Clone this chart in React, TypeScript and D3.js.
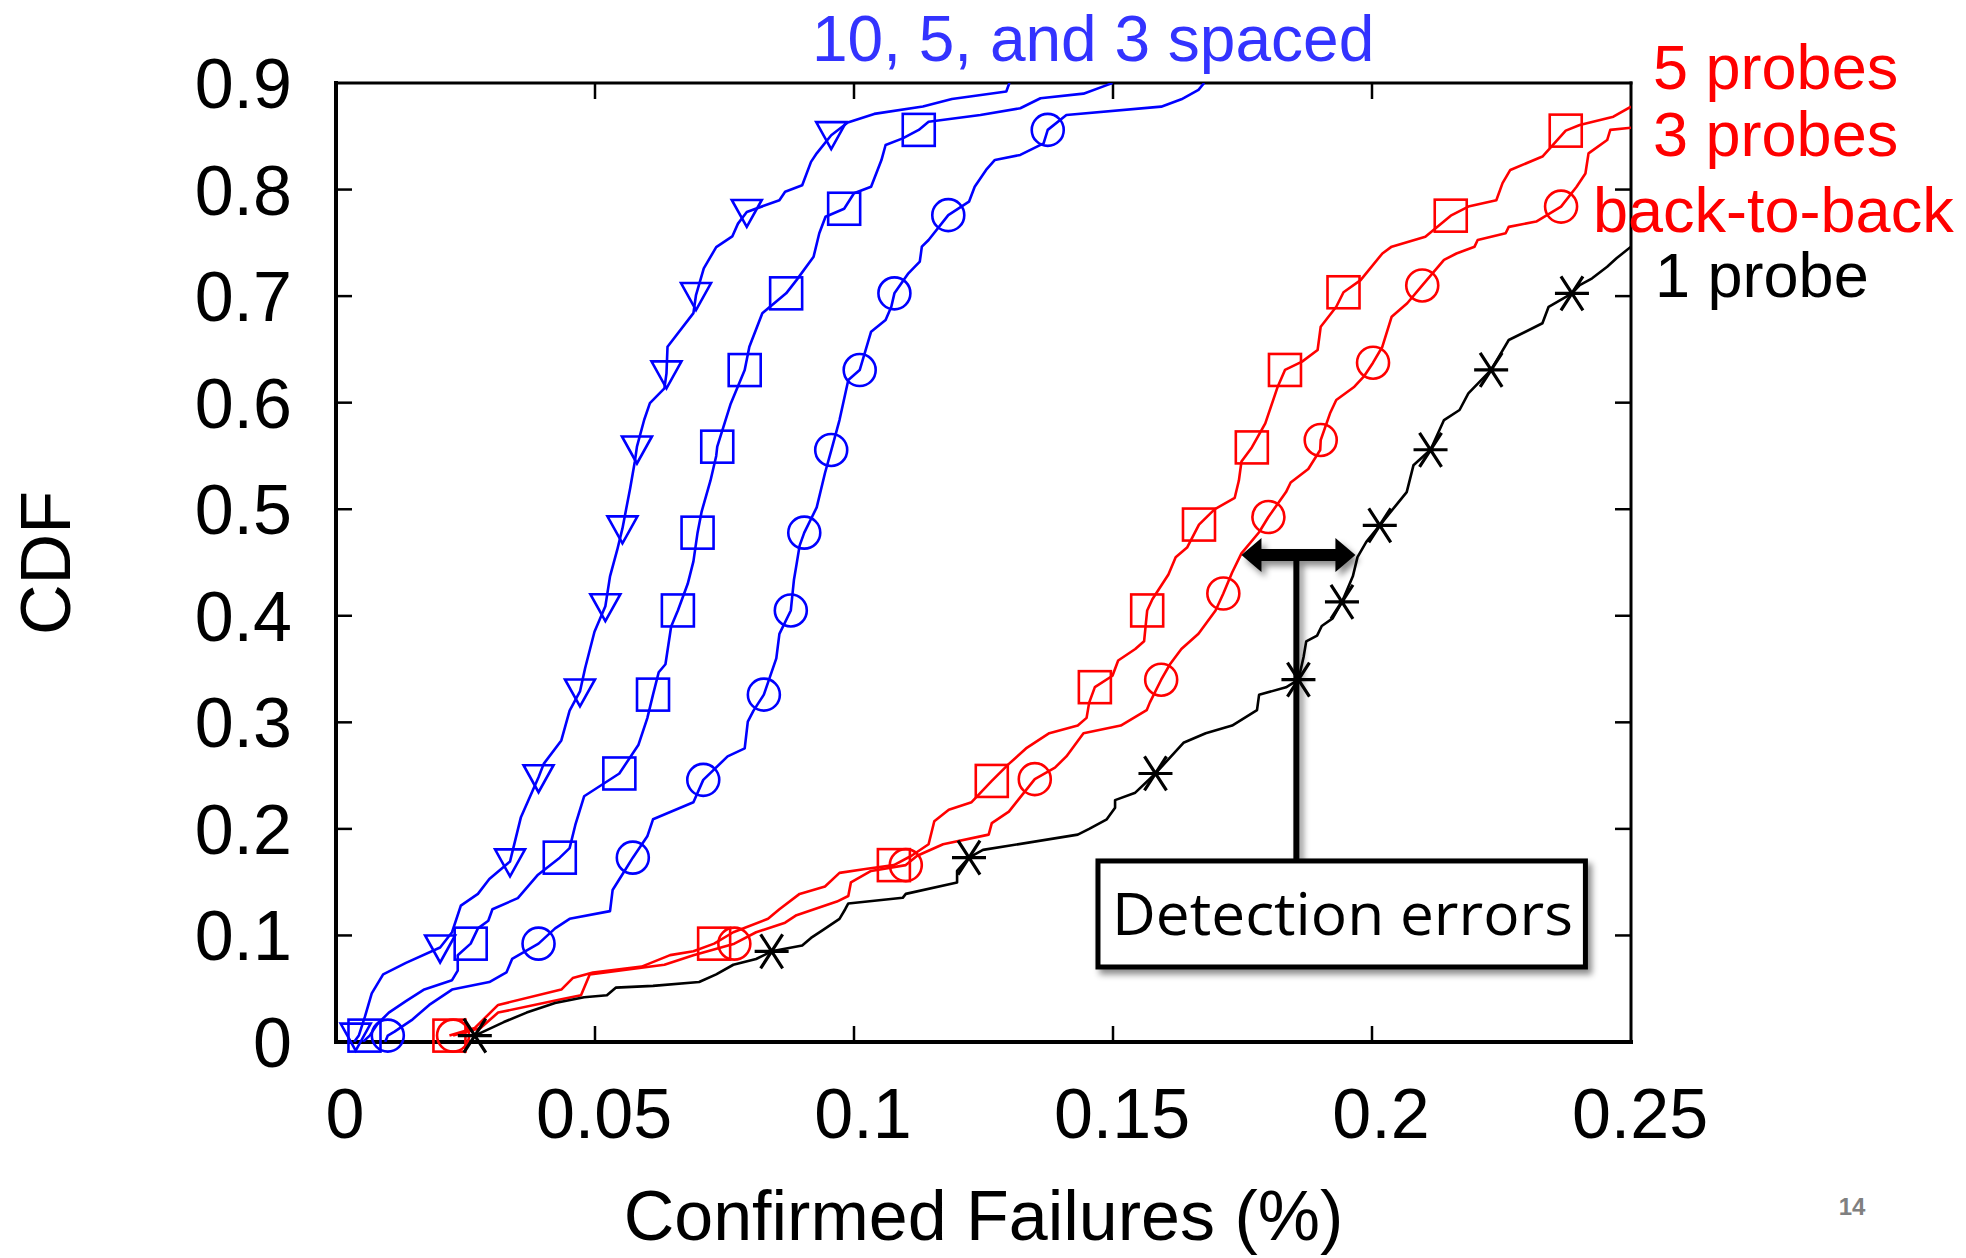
import * as d3 from 'd3'
import { useEffect, useRef } from 'react'

type Pt = [number, number]

// x ticks / y ticks
const xTicks = [0, 0.05, 0.1, 0.15, 0.2, 0.25]
const xTickLabels = ['0', '0.05', '0.1', '0.15', '0.2', '0.25']
const yTicks = [0, 0.1, 0.2, 0.3, 0.4, 0.5, 0.6, 0.7, 0.8, 0.9]
const yTickLabels = ['0', '0.1', '0.2', '0.3', '0.4', '0.5', '0.6', '0.7', '0.8', '0.9']

// 10 spaced (blue, triangles)
const spaced10: Pt[] = [[0.0035,0],[0.0044,0.006],[0.0056,0.024],[0.0069,0.0456],[0.0091,0.0635],[0.0135,0.0743],[0.0201,0.0887],[0.0224,0.103],[0.0241,0.128],[0.0274,0.139],[0.0296,0.153],[0.0336,0.1695],[0.0357,0.211],[0.0391,0.2485],[0.0401,0.261],[0.0435,0.283],[0.0451,0.311],[0.0471,0.329],[0.0481,0.351],[0.0499,0.385],[0.052,0.409],[0.0529,0.437],[0.0543,0.462],[0.0553,0.482],[0.0568,0.52],[0.0577,0.545],[0.0581,0.5587],[0.0595,0.584],[0.0606,0.5995],[0.0634,0.6135],[0.0638,0.6275],[0.064,0.6525],[0.069,0.684],[0.0695,0.701],[0.071,0.726],[0.0734,0.746],[0.0765,0.756],[0.0776,0.768],[0.0793,0.779],[0.0856,0.79],[0.0867,0.798],[0.09,0.804],[0.0917,0.826],[0.0928,0.834],[0.0956,0.851],[0.0988,0.863],[0.1039,0.871],[0.1133,0.878],[0.1189,0.885],[0.1294,0.892],[0.13,0.9]]
const spaced10Marks: Pt[] = [[0.0038,0.006],[0.0201,0.0887],[0.0336,0.1695],[0.0391,0.2485],[0.0471,0.329],[0.052,0.409],[0.0553,0.482],[0.0581,0.557],[0.0638,0.6275],[0.0695,0.701],[0.0793,0.779],[0.0956,0.852]]

// 5 spaced (blue, squares)
const spaced5: Pt[] = [[0.0052,0],[0.0065,0.006],[0.008,0.0169],[0.0102,0.0276],[0.0135,0.0384],[0.0169,0.049],[0.0224,0.058],[0.0235,0.067],[0.0235,0.0815],[0.026,0.0923],[0.0274,0.1066],[0.0294,0.1138],[0.0302,0.1246],[0.0351,0.135],[0.039,0.157],[0.0432,0.173],[0.0451,0.182],[0.0462,0.2037],[0.0479,0.2306],[0.0547,0.252],[0.0584,0.279],[0.0601,0.304],[0.0612,0.326],[0.0623,0.347],[0.0636,0.3545],[0.0647,0.39],[0.066,0.405],[0.0679,0.43],[0.069,0.451],[0.0698,0.478],[0.0706,0.498],[0.0723,0.527],[0.0734,0.55],[0.0736,0.5587],[0.0762,0.599],[0.0789,0.6306],[0.0798,0.6525],[0.0823,0.684],[0.0869,0.7026],[0.0889,0.715],[0.0922,0.737],[0.0933,0.759],[0.0945,0.7745],[0.0981,0.782],[0.1,0.7965],[0.1033,0.8027],[0.1053,0.8277],[0.1061,0.8418],[0.1094,0.848],[0.1125,0.856],[0.1144,0.8637],[0.1244,0.87],[0.1321,0.8763],[0.136,0.8857],[0.1443,0.89],[0.1488,0.898],[0.1499,0.9]]
const spaced5Marks: Pt[] = [[0.0055,0.006],[0.026,0.0923],[0.0432,0.173],[0.0547,0.252],[0.0612,0.326],[0.066,0.405],[0.0698,0.478],[0.0736,0.5587],[0.0789,0.6306],[0.0869,0.7026],[0.0981,0.782],[0.1125,0.856]]

// 3 spaced (blue, circles)
const spaced3: Pt[] = [[0.0095,0],[0.01,0.006],[0.0113,0.0097],[0.0146,0.0205],[0.018,0.0348],[0.0224,0.0492],[0.0296,0.0563],[0.0329,0.0653],[0.034,0.0779],[0.0391,0.0923],[0.0423,0.1066],[0.0451,0.1156],[0.0529,0.1228],[0.0534,0.1426],[0.0557,0.1605],[0.0573,0.173],[0.0601,0.193],[0.0612,0.209],[0.069,0.225],[0.0709,0.246],[0.0756,0.268],[0.0789,0.2755],[0.0795,0.3006],[0.0806,0.311],[0.0826,0.326],[0.085,0.36],[0.0856,0.383],[0.0878,0.405],[0.0884,0.4335],[0.0889,0.448],[0.0895,0.4658],[0.0904,0.478],[0.0928,0.5017],[0.0944,0.534],[0.0956,0.555],[0.0972,0.5837],[0.0989,0.6213],[0.1011,0.6306],[0.1033,0.6666],[0.1061,0.6776],[0.1072,0.69],[0.1078,0.7026],[0.1105,0.7214],[0.1127,0.7323],[0.1131,0.7464],[0.1144,0.7527],[0.1182,0.776],[0.1222,0.7886],[0.1233,0.8027],[0.1255,0.8184],[0.1272,0.8278],[0.1321,0.8325],[0.1366,0.8434],[0.1374,0.856],[0.141,0.87],[0.1593,0.8778],[0.1632,0.8847],[0.1665,0.8935],[0.1676,0.9]]
const spaced3Marks: Pt[] = [[0.01,0.006],[0.0391,0.0923],[0.0573,0.173],[0.0709,0.246],[0.0826,0.326],[0.0878,0.405],[0.0904,0.478],[0.0956,0.5556],[0.1011,0.6306],[0.1078,0.7026],[0.1182,0.776],[0.1374,0.856]]

// 5 probes back-to-back (red, squares)
const probes5: Pt[] = [[0.0219,0.006],[0.0268,0.0132],[0.0313,0.0348],[0.0435,0.0492],[0.0457,0.06],[0.0496,0.0653],[0.059,0.0707],[0.0645,0.0815],[0.069,0.0851],[0.073,0.0923],[0.0767,0.103],[0.0834,0.1156],[0.0856,0.1246],[0.0895,0.139],[0.0944,0.146],[0.0972,0.1587],[0.1022,0.1623],[0.1077,0.166],[0.1111,0.1748],[0.1144,0.1856],[0.1155,0.2072],[0.1183,0.218],[0.1227,0.2251],[0.1266,0.245],[0.1299,0.261],[0.1332,0.2755],[0.1377,0.2898],[0.1432,0.297],[0.1449,0.3042],[0.1454,0.3185],[0.1465,0.333],[0.1499,0.3437],[0.151,0.358],[0.1543,0.3688],[0.156,0.376],[0.1566,0.405],[0.1576,0.4155],[0.1607,0.4388],[0.1621,0.455],[0.1643,0.464],[0.1666,0.4856],[0.1696,0.4999],[0.1735,0.5107],[0.1743,0.5269],[0.1748,0.5448],[0.1768,0.558],[0.1794,0.5806],[0.1818,0.615],[0.1832,0.6307],[0.1865,0.6385],[0.1895,0.6494],[0.1901,0.6713],[0.1931,0.69],[0.1945,0.7036],[0.1978,0.715],[0.202,0.74],[0.2038,0.7464],[0.2103,0.7558],[0.2152,0.7755],[0.2186,0.784],[0.224,0.79],[0.2252,0.806],[0.2267,0.8184],[0.2329,0.831],[0.2374,0.8553],[0.2401,0.8606],[0.2466,0.8684],[0.25,0.8778]]
const probes5Marks: Pt[] = [[0.0219,0.006],[0.073,0.0923],[0.1077,0.166],[0.1266,0.245],[0.1465,0.333],[0.1566,0.405],[0.1666,0.4856],[0.1768,0.558],[0.1832,0.6307],[0.1945,0.7036],[0.2152,0.7755],[0.2374,0.8553]]

// 3 probes back-to-back (red, circles)
const probes3: Pt[] = [[0.0226,0.006],[0.0279,0.0132],[0.0313,0.0276],[0.0435,0.0402],[0.0473,0.0438],[0.049,0.0635],[0.0634,0.0725],[0.069,0.0815],[0.0769,0.0923],[0.0811,0.103],[0.0867,0.112],[0.0889,0.119],[0.0967,0.1318],[0.0989,0.137],[0.0994,0.1497],[0.1033,0.1605],[0.11,0.166],[0.1122,0.1748],[0.1172,0.1856],[0.126,0.1946],[0.1266,0.2054],[0.1299,0.2162],[0.1349,0.2467],[0.1388,0.2575],[0.141,0.268],[0.1443,0.2898],[0.1515,0.297],[0.1565,0.3114],[0.1571,0.3185],[0.1593,0.34],[0.161,0.3545],[0.1632,0.3688],[0.1665,0.3832],[0.1698,0.405],[0.1713,0.4209],[0.173,0.4406],[0.1748,0.4586],[0.1782,0.4784],[0.18,0.4927],[0.1834,0.5161],[0.1843,0.5251],[0.1877,0.5377],[0.19,0.5556],[0.1901,0.565],[0.1919,0.59],[0.1931,0.6025],[0.1966,0.615],[0.1984,0.6244],[0.2002,0.6375],[0.202,0.6525],[0.2038,0.6807],[0.2068,0.6933],[0.2097,0.71],[0.2139,0.734],[0.2163,0.74],[0.2198,0.7464],[0.2204,0.7527],[0.2258,0.759],[0.2264,0.765],[0.2317,0.77],[0.2365,0.784],[0.2395,0.8027],[0.2412,0.815],[0.2418,0.834],[0.2454,0.8465],[0.246,0.856],[0.25,0.858]]
const probes3Marks: Pt[] = [[0.0226,0.006],[0.0769,0.0923],[0.11,0.166],[0.1349,0.2467],[0.1593,0.34],[0.1713,0.4209],[0.18,0.4927],[0.1901,0.565],[0.2002,0.6375],[0.2097,0.71],[0.2365,0.784]]

// 1 probe (black, asterisks)
const probe1: Pt[] = [[0.0268,0.006],[0.0324,0.0187],[0.0368,0.0276],[0.0423,0.0366],[0.0479,0.042],[0.0523,0.0438],[0.054,0.051],[0.0612,0.0527],[0.0701,0.0563],[0.0734,0.0635],[0.0767,0.0725],[0.0811,0.0779],[0.0841,0.0851],[0.09,0.0905],[0.0917,0.0977],[0.0939,0.1048],[0.0972,0.1156],[0.0983,0.1246],[0.0989,0.13],[0.1094,0.1353],[0.11,0.139],[0.1199,0.1497],[0.1199,0.1605],[0.1222,0.173],[0.1249,0.1803],[0.1432,0.1946],[0.1454,0.2],[0.1488,0.209],[0.1504,0.2198],[0.1504,0.227],[0.1543,0.234],[0.1582,0.252],[0.1636,0.2808],[0.1679,0.2898],[0.173,0.297],[0.1778,0.3114],[0.1782,0.3258],[0.1834,0.3329],[0.1858,0.34],[0.1868,0.3616],[0.1873,0.376],[0.1894,0.3814],[0.1903,0.3904],[0.1924,0.3975],[0.1942,0.413],[0.1963,0.437],[0.1972,0.455],[0.1989,0.4694],[0.2015,0.4848],[0.2049,0.5053],[0.2067,0.516],[0.208,0.5412],[0.2113,0.5558],[0.2139,0.5837],[0.2169,0.5931],[0.2186,0.6088],[0.223,0.6307],[0.2264,0.6588],[0.2329,0.6745],[0.2341,0.69],[0.2386,0.7026],[0.2401,0.7104],[0.2425,0.7167],[0.2454,0.7276],[0.2472,0.7355],[0.25,0.7464]]
const probe1Marks: Pt[] = [[0.0268,0.006],[0.0841,0.0851],[0.1222,0.173],[0.1582,0.252],[0.1858,0.34],[0.1942,0.413],[0.2015,0.4848],[0.2113,0.5558],[0.223,0.6307],[0.2386,0.7026]]

const series = [
  { line: spaced10, marks: spaced10Marks, color: '#0000ff', shape: 'tri' },
  { line: spaced5, marks: spaced5Marks, color: '#0000ff', shape: 'square' },
  { line: spaced3, marks: spaced3Marks, color: '#0000ff', shape: 'circle' },
  { line: probes5, marks: probes5Marks, color: '#ff0000', shape: 'square' },
  { line: probes3, marks: probes3Marks, color: '#ff0000', shape: 'circle' },
  { line: probe1, marks: probe1Marks, color: '#000000', shape: 'star' },
]

// annotation, in data units
const arrowY = 0.457
const arrowX: [number, number] = [0.1748, 0.1968]
const stemX = 0.1854
const boxX: [number, number] = [0.1471, 0.2412]
const boxY: [number, number] = [0.0704, 0.1699]

const FONT = '"Liberation Sans", Arial, Helvetica, sans-serif'

const App = () => {
  const svgRef = useRef<SVGSVGElement>(null)
  const width = 1966
  const height = 1258

  useEffect(() => {
    const x = d3.scaleLinear([0, 0.25], [336, 1631])
    const y = d3.scaleLinear([0, 0.9], [1042, 83])
    const svg = d3.select(svgRef.current)
    svg.selectAll('*').remove()

    const defs = svg.append('defs')
    defs.append('clipPath').attr('id', 'plotclip')
      .append('rect').attr('x', 336).attr('y', 83).attr('width', 1295).attr('height', 959)
    defs.append('filter').attr('id', 'shadow')
      .attr('x', '-20%').attr('y', '-20%').attr('width', '140%').attr('height', '160%')
      .append('feDropShadow')
      .attr('dx', 4).attr('dy', 5).attr('stdDeviation', 3)
      .attr('flood-color', '#000').attr('flood-opacity', 0.45)

    // ticks (inside, mirrored)
    const tk = svg.append('g').attr('stroke', '#000').attr('stroke-width', 2.5)
    xTicks.slice(1, -1).forEach(v => {
      tk.append('line').attr('x1', x(v)).attr('x2', x(v)).attr('y1', y(0)).attr('y2', y(0) - 16)
      tk.append('line').attr('x1', x(v)).attr('x2', x(v)).attr('y1', y(0.9)).attr('y2', y(0.9) + 16)
    })
    yTicks.slice(1, -1).forEach(v => {
      tk.append('line').attr('x1', x(0)).attr('x2', x(0) + 16).attr('y1', y(v)).attr('y2', y(v))
      tk.append('line').attr('x1', x(0.25)).attr('x2', x(0.25) - 16).attr('y1', y(v)).attr('y2', y(v))
    })

    // frame
    const fr = svg.append('g').attr('stroke', '#000').attr('stroke-linecap', 'square')
    fr.append('line').attr('x1', x(0)).attr('x2', x(0.25)).attr('y1', y(0.9)).attr('y2', y(0.9)).attr('stroke-width', 3)
    fr.append('line').attr('x1', x(0.25)).attr('x2', x(0.25)).attr('y1', y(0.9)).attr('y2', y(0)).attr('stroke-width', 3)
    fr.append('line').attr('x1', x(0)).attr('x2', x(0)).attr('y1', y(0.9)).attr('y2', y(0)).attr('stroke-width', 4)
    fr.append('line').attr('x1', x(0)).attr('x2', x(0.25)).attr('y1', y(0)).attr('y2', y(0)).attr('stroke-width', 4)

    // tick labels
    svg.append('g').selectAll('text').data(yTicks).join('text')
      .attr('x', 292).attr('y', d => y(d) + 25)
      .attr('text-anchor', 'end').attr('font-family', FONT).attr('font-size', 70)
      .text((d, i) => yTickLabels[i])
    svg.append('g').selectAll('text').data(xTicks).join('text')
      .attr('x', d => x(d) + 9).attr('y', 1138)
      .attr('text-anchor', 'middle').attr('font-family', FONT).attr('font-size', 70)
      .text((d, i) => xTickLabels[i])

    // axis titles
    svg.append('text').attr('x', 983.5).attr('y', 1240).attr('text-anchor', 'middle')
      .attr('font-family', FONT).attr('font-size', 70).text('Confirmed Failures (%)')
    svg.append('text').attr('transform', 'translate(70,563) rotate(-90)').attr('text-anchor', 'middle')
      .attr('font-family', FONT).attr('font-size', 70).text('CDF')

    // lines
    const line = d3.line<Pt>().x(d => x(d[0])).y(d => y(d[1]))
    const lg = svg.append('g').attr('clip-path', 'url(#plotclip)')
    series.forEach(s => {
      lg.append('path').attr('d', line(s.line)).attr('fill', 'none')
        .attr('stroke', s.color).attr('stroke-width', 2.6).attr('stroke-linejoin', 'round')
    })

    // markers
    series.forEach(s => {
      const g = svg.append('g').attr('fill', 'none').attr('stroke', s.color)
        .attr('stroke-width', s.shape === 'star' ? 3.2 : 2.6)
      s.marks.forEach(([mx, my]) => {
        const px = x(mx), py = y(my)
        if (s.shape === 'tri') {
          g.append('path').attr('d', `M${px - 15},${py - 12}L${px + 15},${py - 12}L${px},${py + 15}Z`)
        } else if (s.shape === 'square') {
          g.append('rect').attr('x', px - 16).attr('y', py - 16).attr('width', 32).attr('height', 32)
        } else if (s.shape === 'circle') {
          g.append('circle').attr('cx', px).attr('cy', py).attr('r', 16)
        } else {
          g.append('path').attr('d',
            `M${px - 17},${py}L${px + 17},${py}M${px - 11},${py - 17}L${px + 11},${py + 17}M${px + 11},${py - 17}L${px - 11},${py + 17}`)
        }
      })
    })

    // labels
    svg.append('text').attr('x', 812).attr('y', 61).attr('font-family', FONT).attr('font-size', 64)
      .attr('fill', '#3333ff').text('10, 5, and 3 spaced')
    const lab = svg.append('g').attr('font-family', FONT).attr('font-size', 63)
    lab.append('text').attr('x', 1653).attr('y', 89).attr('fill', '#ff0000').text('5 probes')
    lab.append('text').attr('x', 1653).attr('y', 156).attr('fill', '#ff0000').text('3 probes')
    lab.append('text').attr('x', 1593).attr('y', 232).attr('fill', '#ff0000').text('back-to-back')
    lab.append('text').attr('x', 1655).attr('y', 297).attr('fill', '#000').text('1 probe')

    // annotation: arrow, stem, box
    const ann = svg.append('g').attr('filter', 'url(#shadow)')
    const ay = y(arrowY), ax0 = x(arrowX[0]), ax1 = x(arrowX[1])
    ann.append('path').attr('fill', '#000').attr('d',
      `M${ax0},${ay}L${ax0 + 20},${ay - 17}L${ax0 + 20},${ay - 6}L${ax1 - 20},${ay - 6}L${ax1 - 20},${ay - 17}` +
      `L${ax1},${ay}L${ax1 - 20},${ay + 17}L${ax1 - 20},${ay + 6}L${ax0 + 20},${ay + 6}L${ax0 + 20},${ay + 17}Z`)
    ann.append('line').attr('x1', x(stemX)).attr('x2', x(stemX)).attr('y1', ay).attr('y2', y(boxY[1]))
      .attr('stroke', '#000').attr('stroke-width', 6)
    ann.append('rect').attr('x', x(boxX[0])).attr('y', y(boxY[1]))
      .attr('width', x(boxX[1]) - x(boxX[0])).attr('height', y(boxY[0]) - y(boxY[1]))
      .attr('fill', '#fff').attr('stroke', '#000').attr('stroke-width', 5)
    svg.append('text').attr('x', 1112).attr('y', 935)
      .attr('font-family', '"Open Sans", "Noto Sans", sans-serif').attr('font-size', 59)
      .attr('textLength', 461).attr('lengthAdjust', 'spacingAndGlyphs')
      .text('Detection errors')

    // page number
    svg.append('text').attr('x', 1852).attr('y', 1215).attr('text-anchor', 'middle')
      .attr('font-family', FONT).attr('font-size', 24).attr('font-weight', 'bold')
      .attr('fill', '#808080').text('14')
  }, [])

  return (
    <svg ref={svgRef} width={width} height={height} viewBox={`0 0 ${width} ${height}`}
      style={{ position: 'absolute', left: 0, top: 0, display: 'block', background: '#fff' }} />
  )
}

export default App
